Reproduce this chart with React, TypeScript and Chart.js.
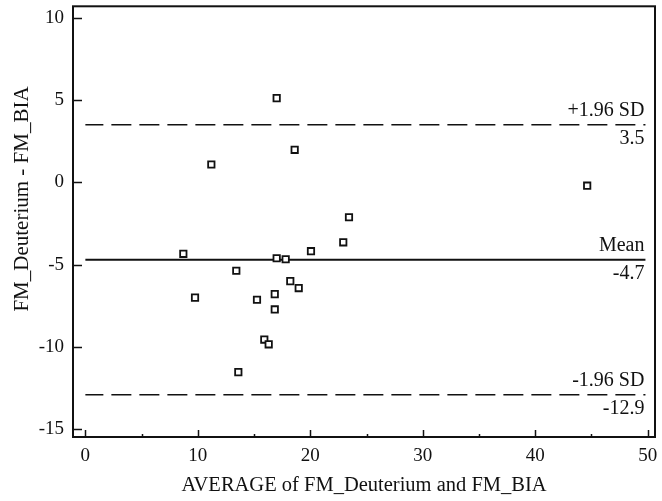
import React, { useEffect, useRef } from "react";
import { Chart, registerables } from "chart.js";

Chart.register(...registerables);

// Bland-Altman data
const averages = [17.01, 18.61, 11.2, 44.62, 23.44, 22.93, 20.06, 8.71, 17.01, 17.81, 13.42, 18.22, 18.97, 9.75, 15.26, 16.84, 16.84, 15.91, 16.3, 13.6];
const differences = [5.12, 1.98, 1.09, -0.2, -2.12, -3.64, -4.18, -4.34, -4.61, -4.67, -5.37, -6.0, -6.42, -7.0, -7.13, -6.79, -7.72, -9.55, -9.84, -11.53];
const meanDiff = -4.7;
const upperLoA = 3.5;
const lowerLoA = -12.9;
const refLabels = ["+1.96 SD", "Mean", "-1.96 SD"];
const xTicks = [0, 10, 20, 30, 40, 50];
const xMinorTicks = [5, 15, 25, 35, 45];
const yTicks = [-15, -10, -5, 0, 5, 10];
const xTitle = "AVERAGE of FM_Deuterium and FM_BIA";
const yTitle = "FM_Deuterium - FM_BIA";

const FONT = "'Liberation Serif', 'Times New Roman', serif";

const baPlugin = {
  id: "blandAltman",
  beforeDatasetsDraw(chart: any) {
    const { ctx, scales } = chart;
    const xs = scales.x;
    const ys = scales.y;
    const x0 = xs.getPixelForValue(0);
    const x1 = xs.getPixelForValue(49.8);
    const lines = [
      { v: upperLoA, dash: true, label: refLabels[0] },
      { v: meanDiff, dash: false, label: refLabels[1] },
      { v: lowerLoA, dash: true, label: refLabels[2] },
    ];
    ctx.save();
    ctx.strokeStyle = "#111";
    ctx.fillStyle = "#111";
    ctx.font = `20px ${FONT}`;
    ctx.textAlign = "right";
    ctx.textBaseline = "alphabetic";
    for (const l of lines) {
      const y = ys.getPixelForValue(l.v);
      ctx.beginPath();
      if (l.dash) {
        ctx.setLineDash([20, 8]);
        ctx.lineDashOffset = 2;
        ctx.lineWidth = 1.6;
      } else {
        ctx.setLineDash([]);
        ctx.lineWidth = 2;
      }
      ctx.moveTo(x0, y);
      ctx.lineTo(x1, y);
      ctx.stroke();
      ctx.fillText(l.label, x1 - 1, y - 9);
      ctx.fillText(l.v.toFixed(1), x1 - 1, y + 19);
    }
    ctx.restore();
  },
  afterDraw(chart: any) {
    const { ctx, chartArea, scales } = chart;
    const { left, right, top, bottom } = chartArea;
    ctx.save();
    ctx.strokeStyle = "#111";
    ctx.setLineDash([]);
    ctx.lineWidth = 2;
    ctx.strokeRect(left, top, right - left, bottom - top);
    ctx.lineWidth = 1.5;
    ctx.beginPath();
    for (const v of yTicks) {
      const y = Math.round(scales.y.getPixelForValue(v)) + 0.5;
      ctx.moveTo(left, y);
      ctx.lineTo(left + 9, y);
    }
    for (const v of xTicks) {
      const x = Math.round(scales.x.getPixelForValue(v)) + 0.5;
      ctx.moveTo(x, bottom);
      ctx.lineTo(x, bottom - 7);
    }
    for (const v of xMinorTicks) {
      const x = Math.round(scales.x.getPixelForValue(v)) + 0.5;
      ctx.moveTo(x, bottom);
      ctx.lineTo(x, bottom - 3);
    }
    ctx.stroke();
    // y axis title
    ctx.fillStyle = "#111";
    ctx.font = `21px ${FONT}`;
    ctx.textAlign = "center";
    ctx.textBaseline = "alphabetic";
    ctx.translate(28, 199);
    ctx.rotate(-Math.PI / 2);
    ctx.fillText(yTitle, 0, 0);
    ctx.restore();
  },
};

export default function App() {
  const canvasRef = useRef<HTMLCanvasElement | null>(null);

  useEffect(() => {
    if (!canvasRef.current) return;
    const chart = new Chart(canvasRef.current, {
      type: "scatter",
      data: {
        datasets: [
          {
            label: "Differences",
            data: averages.map((a, i) => ({ x: a, y: differences[i] })),
            pointStyle: "rect",
            pointRadius: 4.5,
            pointHoverRadius: 4.5,
            borderWidth: 1.8,
            borderColor: "#111",
            backgroundColor: "#fff",
          },
        ],
      },
      plugins: [baPlugin],
      options: {
        animation: false,
        responsive: true,
        maintainAspectRatio: false,
        layout: { padding: { top: 5, right: 7, left: 0, bottom: 0 } },
        plugins: {
          legend: { display: false },
          tooltip: { enabled: false },
        },
        scales: {
          x: {
            type: "linear",
            position: "bottom",
            min: -1.1,
            max: 50.65,
            grid: { display: false, drawTicks: false },
            border: { display: false },
            afterBuildTicks: (s: any) => {
              s.ticks = xTicks.map((v) => ({ value: v }));
            },
            afterFit: (s: any) => {
              s.height = 64;
              s.paddingLeft = 0;
              s.paddingRight = 0;
              s.paddingTop = 0;
              s.paddingBottom = 0;
            },
            ticks: {
              color: "#111",
              padding: 8,
              maxRotation: 0,
              autoSkip: false,
              font: { family: FONT, size: 19 },
            },
            title: {
              display: true,
              text: xTitle,
              color: "#111",
              font: { family: FONT, size: 20.5 },
              padding: { top: 0, bottom: 3 },
            },
          },
          y: {
            type: "linear",
            min: -15.47,
            max: 10.7,
            grid: { display: false, drawTicks: false },
            border: { display: false },
            afterBuildTicks: (s: any) => {
              s.ticks = yTicks.map((v) => ({ value: v }));
            },
            afterFit: (s: any) => {
              s.width = 73;
              s.paddingLeft = 0;
              s.paddingRight = 0;
              s.paddingTop = 0;
              s.paddingBottom = 0;
            },
            ticks: {
              color: "#111",
              padding: 9,
              autoSkip: false,
              font: { family: FONT, size: 19 },
            },
          },
        },
      },
    });
    return () => chart.destroy();
  }, []);

  return (
    <div style={{ position: "fixed", left: 0, top: 0, width: 662, height: 501, background: "#fff" }}>
      <canvas ref={canvasRef} />
    </div>
  );
}
